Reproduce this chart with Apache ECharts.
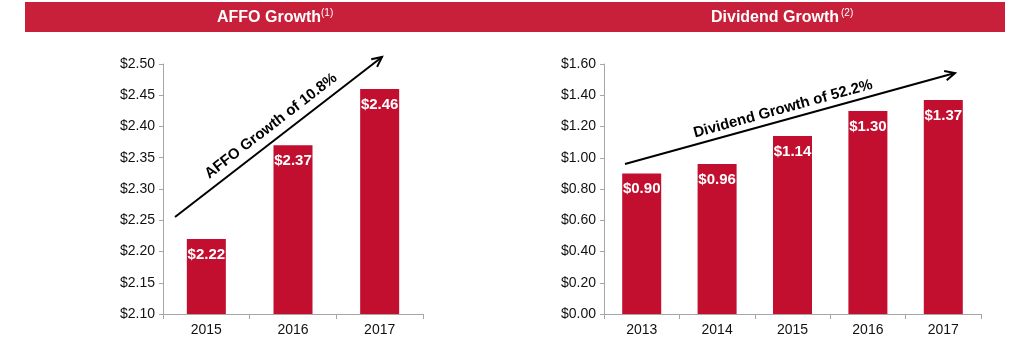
<!DOCTYPE html>
<html>
<head>
<meta charset="utf-8">
<script src="https://cdn.jsdelivr.net/npm/echarts@6/dist/echarts.min.js"></script>
<style>
  html, body { margin: 0; padding: 0; background: #fff; }
  #chart { width: 1030px; height: 352px; }
</style>
</head>
<body>
<div id="chart"></div>
<script>
const affoYears = ['2015', '2016', '2017'];
const affoValues = [2.22, 2.37, 2.46];
const divYears = ['2013', '2014', '2015', '2016', '2017'];
const divValues = [0.90, 0.96, 1.14, 1.30, 1.37];

const RED = '#C20E2F';
const HEAD = '#C8203A';
const FONT = 'Liberation Sans, Arial, sans-serif';

const myChart = echarts.init(document.getElementById('chart'));

const money = v => '$' + v.toFixed(2);

// arrow line + open head, pixel positions of the annotation
function arrow(x1, y1, x2, y2) {
    const a = Math.atan2(y2 - y1, x2 - x1);
    const len = 11, spread = 0.45;
    return [
        { type: 'line', shape: { x1, y1, x2, y2 }, style: { stroke: '#000', lineWidth: 2 } },
        {
            type: 'polyline',
            shape: { points: [
                [x2 - len * Math.cos(a - spread), y2 - len * Math.sin(a - spread)],
                [x2, y2],
                [x2 - len * Math.cos(a + spread), y2 - len * Math.sin(a + spread)]
            ] },
            style: { stroke: '#000', lineWidth: 2, fill: null }
        }
    ];
}

function axisFor(grid, cats) {
    return {
        type: 'category', gridIndex: grid, data: cats,
        axisLine: { lineStyle: { color: '#A6A6A6' } },
        axisTick: { show: true, length: 5, lineStyle: { color: '#A6A6A6' } },
        axisLabel: { color: '#111', fontSize: 14, fontFamily: FONT, margin: 9 }
    };
}
function yFor(grid, min, max, step) {
    return {
        type: 'value', gridIndex: grid, min: min, max: max, interval: step,
        splitLine: { show: false },
        axisLine: { show: true, lineStyle: { color: '#A6A6A6' } },
        axisTick: { show: true, length: 4, lineStyle: { color: '#A6A6A6' } },
        axisLabel: { color: '#111', fontSize: 14, fontFamily: FONT, margin: 8, formatter: money }
    };
}
const barLabel = {
    show: true, position: 'insideTop', distance: 8,
    color: '#fff', fontWeight: 'bold', fontSize: 15, fontFamily: FONT,
    formatter: p => money(p.value)
};

let option = {
    animation: false,
    grid: [
        { left: 163, right: 607, top: 64, bottom: 38 },
        { left: 604, right: 49, top: 64, bottom: 38 }
    ],
    xAxis: [axisFor(0, affoYears), axisFor(1, divYears)],
    yAxis: [yFor(0, 2.1, 2.5, 0.05), yFor(1, 0, 1.6, 0.2)],
    series: [
        { type: 'bar', xAxisIndex: 0, yAxisIndex: 0, data: affoValues, barWidth: 39,
          itemStyle: { color: RED }, label: barLabel },
        { type: 'bar', xAxisIndex: 1, yAxisIndex: 1, data: divValues, barWidth: 39,
          itemStyle: { color: RED }, label: barLabel }
    ],
    graphic: [
        { type: 'rect', shape: { x: 25, y: 2, width: 980, height: 30 }, style: { fill: HEAD } },
        { type: 'text', x: 217, y: 18, style: { text: 'AFFO Growth', fill: '#fff', font: 'bold 16px ' + FONT, verticalAlign: 'middle' } },
        { type: 'text', x: 321, y: 13, style: { text: '(1)', fill: '#fff', font: '10px ' + FONT, verticalAlign: 'middle' } },
        { type: 'text', x: 711, y: 18, style: { text: 'Dividend Growth', fill: '#fff', font: 'bold 16px ' + FONT, verticalAlign: 'middle' } },
        { type: 'text', x: 841, y: 13, style: { text: '(2)', fill: '#fff', font: '10px ' + FONT, verticalAlign: 'middle' } },
        ...arrow(175, 217, 382, 57),
        { type: 'text', x: 271, y: 126, rotation: Math.atan2(160, 207),
          style: { text: 'AFFO Growth of 10.8%', fill: '#000', font: 'bold 15px ' + FONT, align: 'center', verticalAlign: 'middle' } },
        ...arrow(625, 164, 955, 73),
        { type: 'text', x: 783, y: 109, rotation: Math.atan2(91, 330),
          style: { text: 'Dividend Growth of 52.2%', fill: '#000', font: 'bold 15px ' + FONT, align: 'center', verticalAlign: 'middle' } }
    ]
};

myChart.setOption(option);
</script>
</body>
</html>
